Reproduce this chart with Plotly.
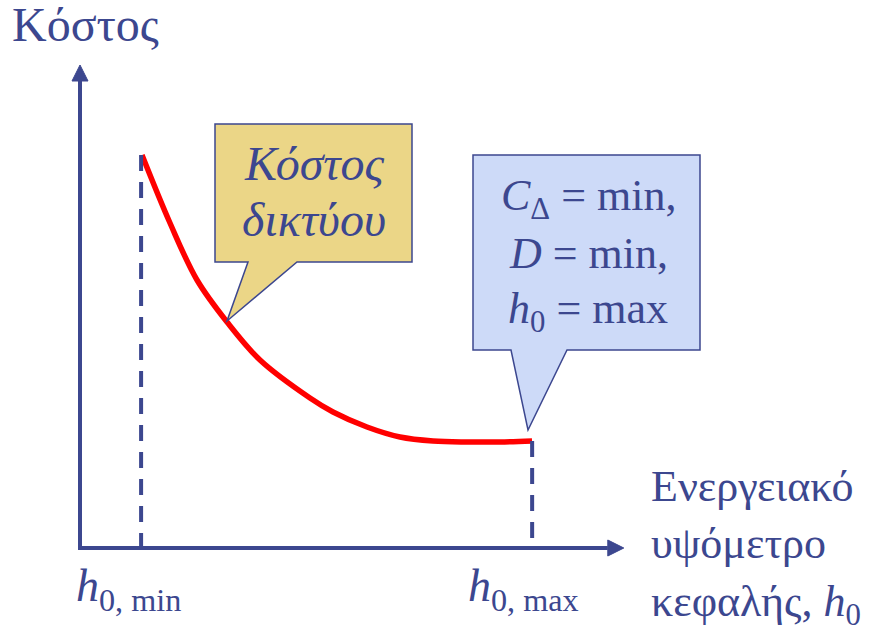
import plotly.graph_objects as go

# ---- data (schematic units: origin at 0,0) ----
h0_values = [1.015, 1.473, 1.915, 2.406, 2.946, 3.764, 4.141, 4.697, 5.237, 5.777, 6.334, 6.874, 7.398]
cost_values = [7.86, 6.50, 5.36, 4.52, 3.76, 3.00, 2.72, 2.42, 2.22, 2.14, 2.12, 2.12, 2.14]
h0_min = 1.0
h0_max = 7.4
x_axis_end = 8.90
y_axis_end = 9.66

y_title = "Κόστος"
x_title_lines = ["Ενεργειακό", "υψόμετρο", "κεφαλής, <i>h</i><sub>0</sub>"]
network_lines = ["<i>Κόστος</i>", "<i>δικτύου</i>"]
optimum_lines = ["<i>C</i><sub>Δ</sub> = min,", "<i>D</i> = min,", "<i>h</i><sub>0</sub> = max"]
h0_min_label = "<i>h</i><sub>0, min</sub>"
h0_max_label = "<i>h</i><sub>0, max</sub>"

W, H = 879, 630
SX, SY = 61.1, 50.0          # pixels per unit
OX, OY = 80.0, 548.0         # origin in pixels
NAVY = "#3C478F"
FONT = "Liberation Serif"

def px_x(px):
    return (px - OX) / SX

def px_y(py):
    return (OY - py) / SY

fig = go.Figure()

# red cost curve
fig.add_trace(go.Scatter(x=h0_values, y=cost_values, mode="lines",
                         line=dict(color="#FF0000", width=5.5, shape="spline"),
                         hoverinfo="skip", showlegend=False))

# dashed verticals
for xv, yv in [(h0_min, cost_values[0]), (h0_max, cost_values[-1])]:
    fig.add_trace(go.Scatter(x=[xv, xv], y=[yv, 0], mode="lines",
                             line=dict(color=NAVY, width=4, dash="16px,11px"),
                             hoverinfo="skip", showlegend=False))

shapes = []
ah = 16  # arrowhead length px
hw = 8   # arrowhead half width px
shapes.append(dict(type="path", xref="x", yref="y",
                   path=f"M 0,{y_axis_end - ah/SY} L 0,0 L {x_axis_end - ah/SX},0",
                   line=dict(color=NAVY, width=4)))
shapes.append(dict(type="path", xref="x", yref="y",
                   path=f"M {-hw/SX},{y_axis_end - ah/SY} L {hw/SX},{y_axis_end - ah/SY} L 0,{y_axis_end} Z",
                   fillcolor=NAVY, line=dict(color=NAVY, width=1)))
shapes.append(dict(type="path", xref="x", yref="y",
                   path=f"M {x_axis_end - ah/SX},{hw/SY} L {x_axis_end - ah/SX},{-hw/SY} L {x_axis_end},0 Z",
                   fillcolor=NAVY, line=dict(color=NAVY, width=1)))

def callout(left, right, top, bottom, b1, b2, tipx, tipy, fill):
    pts = [(left, top), (right, top), (right, bottom), (b2, bottom), (tipx, tipy),
           (b1, bottom), (left, bottom)]
    path = "M " + " L ".join(f"{px_x(a):.4f},{px_y(b):.4f}" for a, b in pts) + " Z"
    return dict(type="path", xref="x", yref="y", path=path, fillcolor=fill,
                line=dict(color=NAVY, width=1.5), layer="above")

shapes.append(callout(215, 412, 124, 262, 248, 297, 227, 321, "#EBD687"))
shapes.append(callout(473, 700, 155, 350, 511, 567, 528, 430, "#CDDAF8"))

annotations = []

def ann(text, px, baseline, size, xanchor="left"):
    top = baseline - 0.97 * size
    annotations.append(dict(text=text, x=px / W, y=1 - top / H, xref="paper", yref="paper",
                            xanchor=xanchor, yanchor="top", align="left", showarrow=False,
                            font=dict(family=FONT, size=size, color=NAVY)))

ann(y_title, 10, 43, 48)
for line, bl in zip(network_lines, [182, 238]):
    ann(line, 314, bl, 48, xanchor="center")
for line, bl in zip(optimum_lines, [212, 270, 325]):
    ann(line, 588, bl, 44, xanchor="center")
ann(h0_min_label, 74, 603, 46)
ann(h0_max_label, 466, 603, 46)
for line, bl in zip(x_title_lines, [503, 560, 618]):
    ann(line, 649, bl, 44)

fig.update_layout(
    width=W, height=H, margin=dict(l=0, r=0, t=0, b=0),
    paper_bgcolor="white", plot_bgcolor="white",
    xaxis=dict(range=[px_x(0), px_x(W)], visible=False, fixedrange=True),
    yaxis=dict(range=[px_y(H), px_y(0)], visible=False, fixedrange=True),
    shapes=shapes, annotations=annotations, showlegend=False,
)

fig.write_html("out.html", config={"displayModeBar": False},
               post_script="document.body.style.margin='0px';")
